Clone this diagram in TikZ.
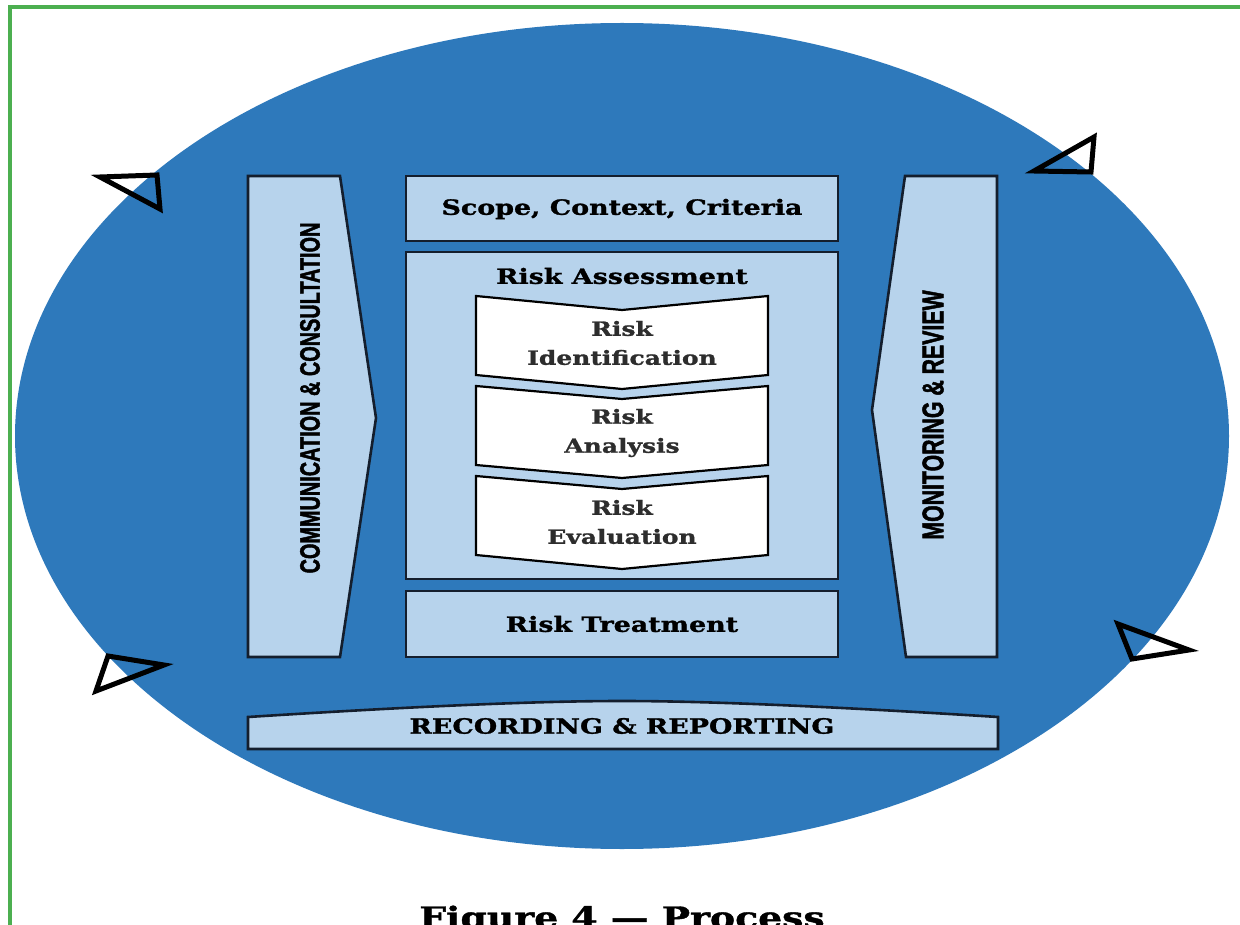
\documentclass[tikz,border=0pt]{standalone}
\usepackage{fontspec}
\newfontfamily\boxfont[FakeStretch=1.28, BoldFeatures={FakeBold=1.3}]{DejaVu Serif}
\newfontfamily\sidefont[FakeStretch=0.71, BoldFeatures={FakeBold=1.5}]{Liberation Sans}
\definecolor{ellblue}{RGB}{46,121,187}
\definecolor{lightbox}{RGB}{183,211,236}
\definecolor{edge}{RGB}{20,30,45}
\definecolor{frame}{RGB}{76,175,80}
\definecolor{innertext}{RGB}{45,45,45}
\tikzset{
  boxshape/.style={fill=lightbox, draw=edge, line width=2.6pt, line join=miter},
  chev/.style={fill=white, draw=black, line width=2.2pt, line join=miter},
  tri/.style={draw=black, line width=5pt, line join=miter},
  boxlabel/.style={font=\boxfont\bfseries\fontsize{21}{24}\selectfont, text=black, inner sep=0pt},
  innerlabel/.style={font=\boxfont\bfseries\fontsize{19.5}{29}\selectfont, text=innertext, align=center, inner sep=0pt},
  sidelabel/.style={font=\sidefont\bfseries\fontsize{28}{30}\selectfont, text=black, inner sep=0pt, rotate=90},
}
\begin{document}
\begin{tikzpicture}[x=1pt,y=-1pt]
\useasboundingbox (0,0) rectangle (1240,925);
\fill[white] (0,0) rectangle (1240,925);
% frame lines
\draw[frame, line width=4pt] (10,930) -- (10,7) -- (1245,7);
% blue ellipse
\fill[ellblue] (622,436) ellipse [x radius=607, y radius=413];
% triangles
\draw[tri] (100,177) -- (157,175) -- (160,209) -- cycle;
\draw[tri] (1034,171) -- (1094,137) -- (1091,172) -- cycle;
\draw[tri] (108,656) -- (96,691) -- (164,665) -- cycle;
\draw[tri] (1118,624) -- (1132,659) -- (1189,650) -- cycle;
% communication & consultation
\draw[boxshape] (248,176) -- (340,176) -- (376,418) -- (340,657) -- (248,657) -- cycle;
\node[sidelabel] (comm) at (310,398) {COMMUNICATION \& CONSULTATION};
% monitoring & review
\draw[boxshape] (905,176) -- (997,176) -- (997,657) -- (906,657) -- (872,410) -- cycle;
\node[sidelabel, font=\sidefont\bfseries\fontsize{30}{32}\selectfont] (mon) at (933,415) {MONITORING \& REVIEW};
% scope
\draw[boxshape] (406,176) rectangle (838,241);
\node[boxlabel] (scope) at (622,209) {Scope, Context, Criteria};
% risk assessment
\draw[boxshape] (406,252) rectangle (838,579);
\node[boxlabel] (assess) at (622,276) {Risk Assessment};
% chevrons
\draw[chev] (476,296) -- (622,310) -- (768,296) -- (768,375) -- (622,389) -- (476,375) -- cycle;
\node[innerlabel] (ident) at (622,343) {Risk\\Identification};
\draw[chev] (476,386) -- (622,399) -- (768,386) -- (768,465) -- (622,478) -- (476,465) -- cycle;
\node[innerlabel] (anal) at (622,433) {Risk\\Analysis};
\draw[chev] (476,476) -- (622,489) -- (768,476) -- (768,555) -- (622,569) -- (476,555) -- cycle;
\node[innerlabel] (eval) at (622,522) {Risk\\Evaluation};
% risk treatment
\draw[boxshape] (406,591) rectangle (838,657);
\node[boxlabel] (treat) at (622,624) {Risk Treatment};
% recording & reporting
\draw[boxshape] (248,749) -- (248,717) .. controls (420,706) and (540,701) .. (622,701) .. controls (704,701) and (824,706) .. (998,717) -- (998,749) -- cycle;
\node[boxlabel] (rec) at (622,726) {RECORDING \& REPORTING};
% caption
\node[font=\boxfont\bfseries\fontsize{29.5}{32}\selectfont, text=black, anchor=base, inner sep=0pt] (cap) at (622,928) {Figure 4 — Process};
\end{tikzpicture}
\end{document}
